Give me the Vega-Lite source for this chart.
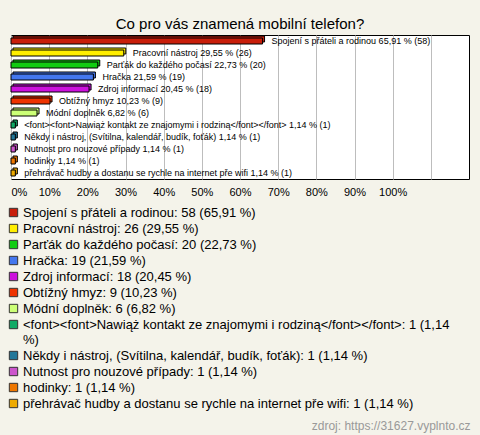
{
  "$schema": "https://vega.github.io/schema/vega-lite/v6.json",
  "autosize": {"type": "none"},
  "width": 458,
  "height": 144,
  "padding": {"left": 11, "top": 35, "right": 11, "bottom": 256},
  "background": "#f4f3ea",
  "title": {"text": "Co pro vás znamená mobilní telefon?", "fontSize": 15, "fontWeight": "normal", "font": "Liberation Sans", "color": "#000", "offset": 3},
  "config": {
    "font": "Liberation Sans",
    "view": {"fill": "white", "stroke": "#000", "strokeWidth": 1}
  },
  "data": {"values": [
    {"order": 1, "name": "Spojení s přáteli a rodinou", "count": 58, "pct": 65.91},
    {"order": 2, "name": "Pracovní nástroj", "count": 26, "pct": 29.55},
    {"order": 3, "name": "Parťák do každého počasí", "count": 20, "pct": 22.73},
    {"order": 4, "name": "Hračka", "count": 19, "pct": 21.59},
    {"order": 5, "name": "Zdroj informací", "count": 18, "pct": 20.45},
    {"order": 6, "name": "Obtížný hmyz", "count": 9, "pct": 10.23},
    {"order": 7, "name": "Módní doplněk", "count": 6, "pct": 6.82},
    {"order": 8, "name": "<font><font>Nawiąż kontakt ze znajomymi i rodziną</font></font>", "count": 1, "pct": 1.14},
    {"order": 9, "name": "Někdy i nástroj, (Svítilna, kalendář, budík, foťák)", "count": 1, "pct": 1.14},
    {"order": 10, "name": "Nutnost pro nouzové případy", "count": 1, "pct": 1.14},
    {"order": 11, "name": "hodinky", "count": 1, "pct": 1.14},
    {"order": 12, "name": "přehrávač hudby a dostanu se rychle na internet pře wifi", "count": 1, "pct": 1.14}
  ]},
  "transform": [
    {"calculate": "replace(format(datum.pct, '.2f'), '.', ',')", "as": "pctText"},
    {"calculate": "datum.name + ' ' + datum.pctText + ' % (' + datum.count + ')'", "as": "barLabel"},
    {"calculate": "datum.name + ': ' + datum.count + ' (' + datum.pctText + ' %)'", "as": "legendLabel"}
  ],
  "encoding": {
    "y": {"field": "name", "type": "nominal", "sort": {"field": "order", "op": "min"}, "axis": null},
    "x": {
      "field": "pct", "type": "quantitative",
      "scale": {"domain": [0, 120], "nice": false},
      "axis": {
        "values": [0, 10, 20, 30, 40, 50, 60, 70, 80, 90, 100, 110],
        "labelExpr": "datum.value <= 100 ? datum.value + '%' : ''",
        "labelFlush": true,
        "labelFontSize": 11,
        "labelColor": "#000",
        "labelPadding": 7,
        "ticks": false,
        "domain": false,
        "grid": true,
        "gridColor": "#bdbdbd",
        "gridWidth": 1,
        "title": "zdroj: https://31627.vyplnto.cz",
        "titleFontSize": 12,
        "titleFontWeight": "normal",
        "titleColor": "#999999",
        "titleAnchor": "end",
        "titleAlign": "right",
        "titleX": 459,
        "titleY": 246,
        "titleBaseline": "middle"
      }
    },
    "color": {"field": "legendLabel", "type": "nominal", "sort": {"field": "order", "op": "min"},
      "scale": {"range": ["#c81e0a", "#ffee00", "#11cc11", "#4477ee", "#cc11dd", "#ee3300", "#ccff77", "#11aa66", "#227799", "#cc55cc", "#ee7700", "#eeaa00"]},
      "legend": {
        "orient": "none", "legendX": -4, "legendY": 171, "direction": "vertical", "columns": 1,
        "title": null, "padding": 0,
        "symbolType": "square", "symbolSize": 70, "symbolStrokeColor": "#333", "symbolStrokeWidth": 1, "symbolOpacity": 1,
        "labelFontSize": 13, "labelColor": "#000", "labelLimit": 470, "labelOffset": 3,
        "rowPadding": 2,
        "labelExpr": "indexof(datum.label, '</font>') > 0 ? [replace(datum.label, ' %)', ''), '%)'] : datum.label"
      }
    }
  },
  "layer": [
    {
      "mark": {"type": "bar", "height": 6, "xOffset": 2, "yOffset": -2, "stroke": "#000", "strokeWidth": 1}
    },
    {
      "mark": {"type": "bar", "height": 6, "stroke": "#000", "strokeWidth": 1}
    },
    {
      "mark": {"type": "text", "align": "left", "baseline": "middle", "dx": 9, "fontSize": 9},
      "encoding": {"text": {"field": "barLabel"}, "color": {"value": "#000"}}
    }
  ]
}
